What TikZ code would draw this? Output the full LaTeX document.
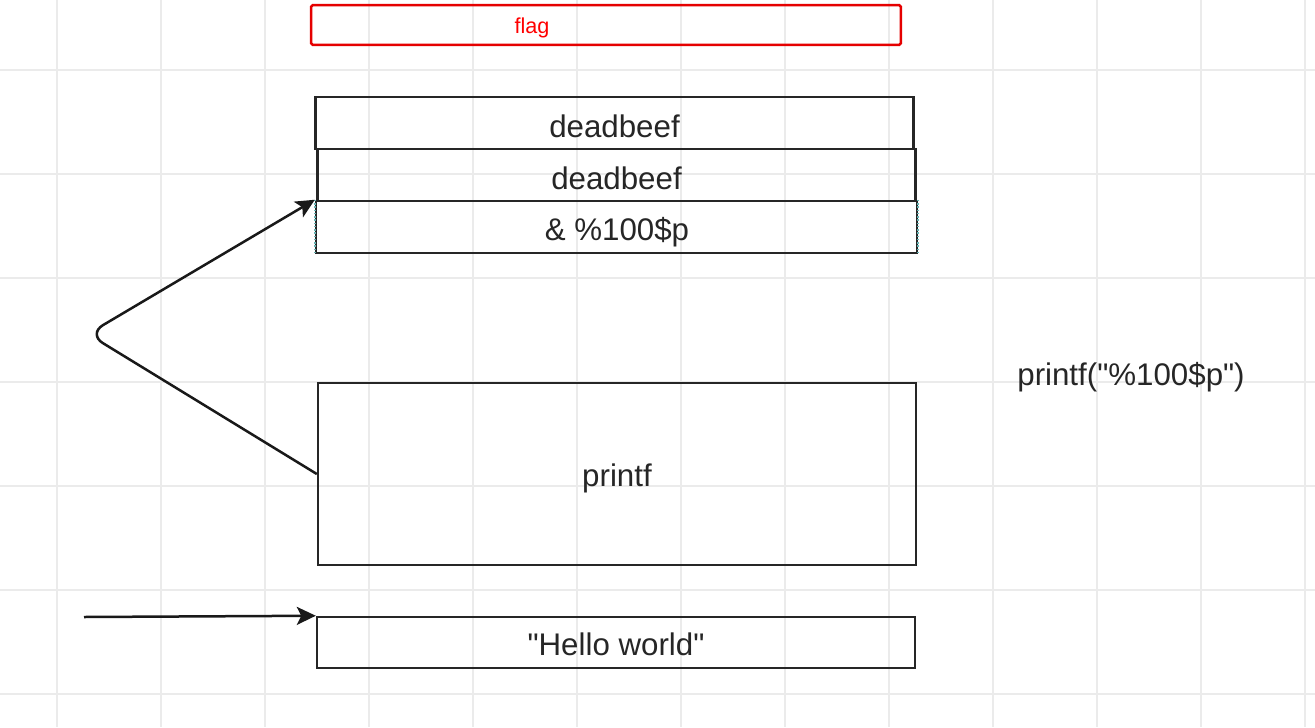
\documentclass[tikz,border=0pt]{standalone}
\usepackage{fontspec}
\setmainfont{Liberation Sans}[Ligatures=TeXOff]
\usetikzlibrary{arrows.meta}
\begin{document}
\begin{tikzpicture}[x=0.02cm,y=-0.02cm,
  gridline/.style={draw=black!8, line width=0.025cm},
  cell/.style={draw=black!85, line width=0.05cm, inner sep=0pt, minimum width=11.96cm},
  celltext/.style={font=\fontsize{17.8}{21}\selectfont, text=black!85, inner sep=0pt, text depth=0pt},
  flagbox/.style={draw=red!90!black, line width=0.05cm, rounded corners=1pt, inner sep=0pt, minimum width=11.8cm, minimum height=0.8cm},
  conn/.style={draw=black!90, line width=0.05cm, -{Stealth[length=0.38cm,width=0.36cm,inset=0.09cm]}},
  lbl/.style={font=\fontsize{17.8}{21}\selectfont, text=black!85, inner sep=0pt}]
\useasboundingbox (0,0) rectangle (1315,727);
\fill[white] (0,0) rectangle (1315,727);
% grid
\foreach \gx in {57,161,...,1305} \draw[gridline] (\gx,0) -- (\gx,727);
\foreach \gy in {70,174,...,694} \draw[gridline] (0,\gy) -- (1315,\gy);
% flag
\node[flagbox] (flag) at (606,25) {};
\node[text=red, font=\fontsize{12.3}{14}\selectfont, inner sep=0pt] (flagtxt) at (532,28) {flag};
% stack cells
\node[cell, minimum height=1.04cm] (d1) at (614.5,123) {};
\node[cell, minimum height=1.04cm] (d2) at (616.5,175) {};
\node[cell, minimum height=1.04cm, minimum width=12.02cm] (amp) at (616.5,227) {};
\draw[teal!60, densely dotted, line width=0.03cm] (amp.north west) -- (amp.south west) (amp.north east) -- (amp.south east);
\node[cell, minimum height=3.64cm] (pf) at (617,474) {};
\node[cell, minimum height=1.02cm] (hello) at (616,642.5) {};
\node[celltext] (d1t) at (614.5,126) {deadbeef};
\node[celltext] (d2t) at (616.5,178) {deadbeef};
\node[celltext] (ampt) at (617,229) {\& \%100\$p};
\node[celltext] (pft) at (617,475) {printf};
\node[celltext] (hellot) at (616,644.5) {"Hello world"};
\node[lbl, anchor=west] (call) at (1017,377) {printf("\%100\$p")};
% connectors
\coordinate (bend) at (88,334);
\coordinate (src) at (84,617);
\draw[conn, rounded corners=0.35cm] (pf.west) -- (bend) -- (amp.north west);
\draw[conn] (src) -- (hello.north west);
\end{tikzpicture}
\end{document}
